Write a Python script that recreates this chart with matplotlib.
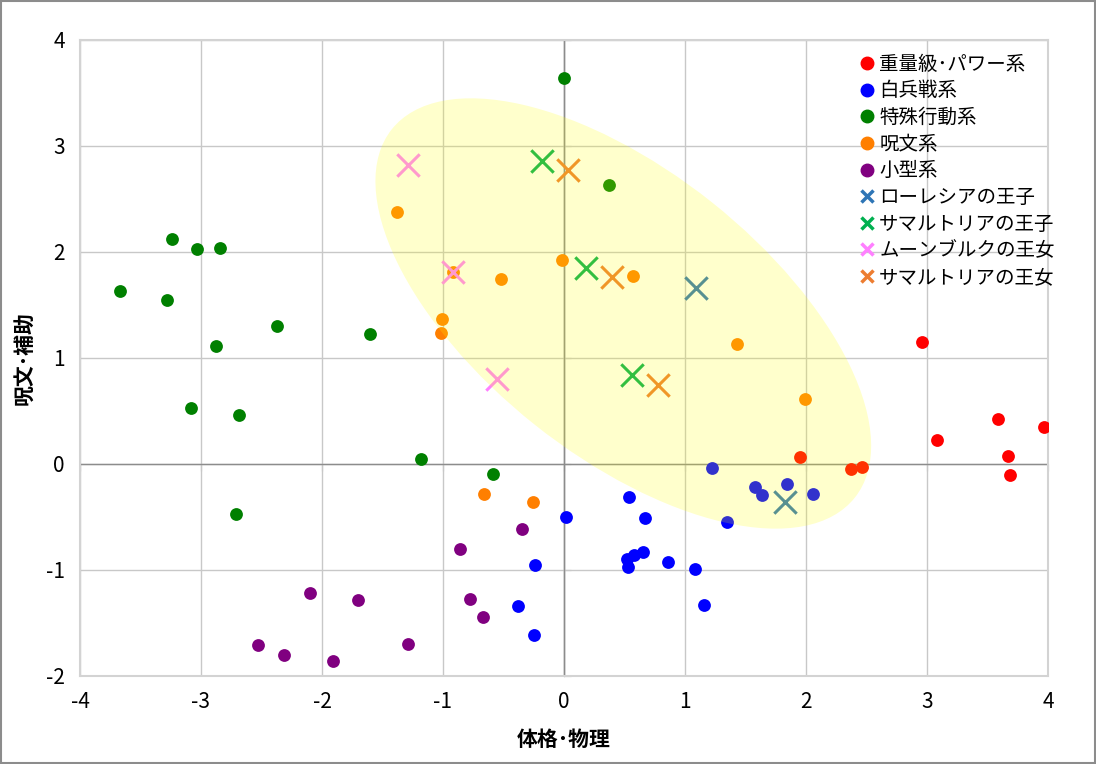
import numpy as np
import matplotlib
matplotlib.use("Agg")
from matplotlib import pyplot as plt
from matplotlib.patches import Ellipse, Rectangle
from matplotlib.lines import Line2D
from matplotlib.transforms import Affine2D

plt.rcParams['font.family'] = ['Noto Sans CJK JP', 'DejaVu Sans']
plt.rcParams['axes.unicode_minus'] = False

# groups of monsters (dots)
heavy_x = [2.96, 3.08, 3.59, 3.67, 3.69, 3.97, 1.95, 2.37, 2.46]
heavy_y = [1.15, 0.23, 0.42, 0.08, -0.10, 0.35, 0.07, -0.05, -0.03]

melee_x = [1.22, 0.54, 0.67, 1.35, 1.58, 1.64, 1.84, 2.06, 0.52, 0.58, 0.65, 0.53,
           0.86, 1.08, 1.16, 0.02, -0.24, -0.38, -0.25]
melee_y = [-0.04, -0.31, -0.51, -0.55, -0.22, -0.29, -0.19, -0.28, -0.90, -0.86, -0.83, -0.97,
           -0.92, -0.99, -1.33, -0.50, -0.95, -1.34, -1.61]

special_x = [-3.67, -3.24, -3.03, -2.84, -3.28, -2.37, -1.60, -2.88, -3.08, -2.69,
             -1.18, -2.71, 0.00, 0.37, -0.59]
special_y = [1.63, 2.12, 2.03, 2.04, 1.55, 1.30, 1.23, 1.11, 0.53, 0.46,
             0.05, -0.47, 3.64, 2.63, -0.09]

spell_x = [-1.38, -0.92, -0.52, -0.02, 0.57, -1.01, -1.02, 1.43, 1.99, -0.66, -0.26]
spell_y = [2.38, 1.81, 1.75, 1.92, 1.77, 1.37, 1.24, 1.13, 0.61, -0.28, -0.36]

small_x = [-0.86, -0.35, -2.10, -1.70, -0.78, -0.67, -2.53, -2.31, -1.91, -1.29]
small_y = [-0.80, -0.61, -1.22, -1.28, -1.27, -1.44, -1.71, -1.80, -1.86, -1.70]

# heroes (crosses)
lorasia_x = [1.09, 1.83]
lorasia_y = [1.66, -0.36]
cannock_x = [-0.18, 0.18, 0.56]
cannock_y = [2.86, 1.85, 0.84]
moonbrooke_x = [-1.29, -0.92, -0.55]
moonbrooke_y = [2.82, 1.81, 0.80]
cannock_f_x = [0.03, 0.40, 0.78]
cannock_f_y = [2.77, 1.76, 0.75]

dot_groups = [
    ('重量級･パワー系', heavy_x, heavy_y, '#FF0000'),
    ('白兵戦系', melee_x, melee_y, '#0000FF'),
    ('特殊行動系', special_x, special_y, '#008000'),
    ('呪文系', spell_x, spell_y, '#FF7F00'),
    ('小型系', small_x, small_y, '#800080'),
]
cross_groups = [
    ('ローレシアの王子', lorasia_x, lorasia_y, '#2E75B6'),
    ('サマルトリアの王子', cannock_x, cannock_y, '#00B050'),
    ('ムーンブルクの王女', moonbrooke_x, moonbrooke_y, '#FF80FF'),
    ('サマルトリアの王女', cannock_f_x, cannock_f_y, '#ED7D31'),
]

# highlighted region (sizes in x units, drawn in equal-pixel space)
ell_center = (0.49, 1.42)
ell_w, ell_h, ell_angle = 4.89, 2.35, -38.5

fig = plt.figure(figsize=(10.96, 7.64), dpi=100)
ax = fig.add_axes([80 / 1096, 88 / 764, 968 / 1096, 636 / 764])

ax.set_xlim(-4, 4)
ax.set_ylim(-2, 4)
ax.set_xticks(range(-4, 5))
ax.set_yticks(range(-2, 5))
ax.grid(True, color='#C8C8C8', lw=1)
ax.set_axisbelow(True)
for s in ax.spines.values():
    s.set_color('#D3D3D3')
    s.set_linewidth(1.5)
ax.tick_params(length=0, labelsize=15, pad=11)

# axis lines through the origin with small tick marks
ax.axhline(0, color='#8C8C8C', lw=1, zorder=1)
ax.axvline(0, color='#8C8C8C', lw=1, zorder=1)
sx = ax.secondary_xaxis(1 / 3)
sx.set_xticks(range(-4, 5))
sx.set_xticklabels([])
sx.tick_params(direction='out', length=5, color='#8C8C8C')
sx.spines['bottom'].set_visible(False)
sy = ax.secondary_yaxis(0.5)
sy.set_yticks(range(-2, 5))
sy.set_yticklabels([])
sy.tick_params(direction='out', length=5, color='#8C8C8C')
sy.spines['left'].set_visible(False)

handles = []
for name, xs, ys, c in dot_groups:
    ax.scatter(xs, ys, s=85, color=c, zorder=3, linewidths=0)
    handles.append(Line2D([], [], ls='none', marker='o', ms=9, color=c, label=name))
for name, xs, ys, c in cross_groups:
    ax.scatter(xs, ys, s=260, marker='x', color=c, linewidths=2.2, zorder=4)
    handles.append(Line2D([], [], ls='none', marker='x', ms=9, mew=2.5, color=c, label=name))

# ellipse is defined in a space where x and y units have the same pixel length
k = (636 / 6) / (968 / 8)
ell = Ellipse((ell_center[0], ell_center[1] * k), ell_w, ell_h, angle=ell_angle,
              facecolor='#FFFF00', alpha=0.2, edgecolor='none', zorder=5,
              transform=Affine2D().scale(1, 1 / k) + ax.transData)
ax.add_patch(ell)

ax.legend(handles=handles, loc='upper left', bbox_to_anchor=(850 / 1096, 1 - 46 / 764),
          bbox_transform=fig.transFigure, frameon=False, fontsize=14,
          labelspacing=0.29, handlelength=0.9, handletextpad=0.2, borderaxespad=0)

ax.set_xlabel('体格･物理', fontsize=15, fontweight='bold', labelpad=11)
ax.set_ylabel('呪文･補助', fontsize=15, fontweight='bold', labelpad=8)

# chart border
fig.patches.append(Rectangle((0.001, 0.001), 0.998, 0.998, transform=fig.transFigure,
                             fill=False, edgecolor='#8C8C8C', lw=1.5))

fig.savefig('out.png', dpi=100)
